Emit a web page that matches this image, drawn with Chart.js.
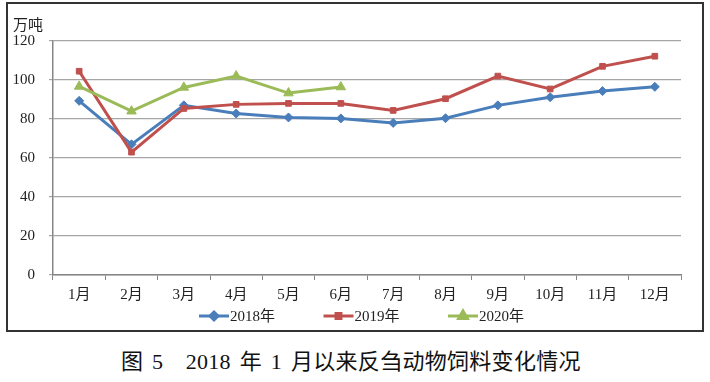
<!DOCTYPE html>
<html>
<head>
<meta charset="utf-8">
<script src="https://cdn.jsdelivr.net/npm/chart.js@4/dist/chart.umd.min.js"></script>
<style>
  html, body { margin: 0; padding: 0; background: #fff; }
  body { width: 710px; height: 382px; position: relative; overflow: hidden; }
  #box {
    position: absolute; left: 6px; top: 2px; width: 698px; height: 330px;
    box-sizing: border-box; border: 2px solid #333;
  }
  #box canvas { display: block; }
  #caption {
    position: absolute; left: 121px; top: 351px; line-height: 22px;
    font-family: "Liberation Serif", "Noto Sans CJK SC", serif;
    font-size: 22px; color: #111; white-space: pre; word-spacing: 3px; letter-spacing: 0.3px;
  }
</style>
</head>
<body>
<div id="box"><canvas id="chart"></canvas></div>
<div id="caption">图 5　2018 年 1 月以来反刍动物饲料变化情况</div>
<script>
/* ---- Data ---- */
const months = ["1月","2月","3月","4月","5月","6月","7月","8月","9月","10月","11月","12月"];
const seriesNames = ["2018年","2019年","2020年"];
const values2018 = [89.3, 67, 87, 82.8, 80.8, 80.3, 78, 80.4, 87, 91.2, 94.3, 96.5];
const values2019 = [104.5, 63, 85.4, 87.5, 88, 88, 84.4, 90.4, 102, 95.4, 107, 112.2];
const values2020 = [96.7, 84, 96.2, 102, 93.3, 96.4];
const yMin = 0, yMax = 120, yStep = 20;
const unitLabel = "万吨";

(() => {
  const FONT = '"Liberation Serif", "Noto Sans CJK SC", serif';
  const TEXT = "#222";

  // legend + unit label drawn by hand (line + marker like the original)
  const extras = {
    id: "extras",
    afterDraw(chart){
      const ctx = chart.ctx;
      ctx.save();
      ctx.fillStyle = TEXT;
      ctx.font = "15px " + FONT;
      ctx.textBaseline = "middle";
      ctx.textAlign = "left";
      ctx.fillText(unitLabel, 5, 22);

      chart.data.datasets.forEach((ds, i) => {
        const x0 = 191 + i * 124.5;
        const y = 312;
        ctx.strokeStyle = ds.borderColor;
        ctx.lineWidth = 3;
        ctx.beginPath();
        ctx.moveTo(x0, y);
        ctx.lineTo(x0 + 30, y);
        ctx.stroke();
        ctx.fillStyle = ds.pointBackgroundColor;
        ctx.strokeStyle = ds.pointBorderColor;
        Chart.helpers.drawPoint(ctx, {
          pointStyle: ds.pointStyle,
          radius: ds.pointRadius - 0.5,
          rotation: 0,
          borderWidth: 1
        }, x0 + 15, y);
        ctx.fillStyle = TEXT;
        ctx.fillText(ds.label, x0 + 31, y + 1);
      });
      ctx.restore();
    }
  };

  function makeSet(label, data, color, style, radius, order){
    return {
      label, data, order,
      borderColor: color,
      backgroundColor: color,
      pointBackgroundColor: color,
      pointBorderColor: color,
      pointStyle: style,
      pointRadius: radius,
      pointBorderWidth: 1,
      borderWidth: 3,
      tension: 0,
      fill: false
    };
  }

  const data = {
    labels: months,
    datasets: [
      makeSet(seriesNames[0], values2018, "#4a7ebb", "rectRot", 4.5, 2),
      makeSet(seriesNames[1], values2019, "#c0504d", "rect", 4, 1),
      makeSet(seriesNames[2], values2020, "#9bbb59", "triangle", 5.5, 0)
    ]
  };

  new Chart(document.getElementById("chart"), {
    type: "line",
    data,
    plugins: [extras],
    options: {
      responsive: true,
      maintainAspectRatio: false,
      animation: false,
      layout: { padding: { top: 37, right: 21, left: 0, bottom: 0 } },
      plugins: { legend: { display: false }, tooltip: { enabled: false } },
      scales: {
        x: {
          offset: true,
          afterFit: (s) => { s.height = 55; },
          grid: { offset: true, drawOnChartArea: false, drawTicks: true, tickLength: 5, color: "#868686" },
          border: { color: "#868686", width: 1.5 },
          ticks: { color: TEXT, font: { family: FONT, size: 15 }, padding: 6, maxRotation: 0, autoSkip: false }
        },
        y: {
          min: yMin, max: yMax,
          afterFit: (s) => { s.width = 45; },
          grid: { color: "#a6a6a6", lineWidth: 1.2, tickLength: 4 },
          border: { color: "#868686", width: 1.5 },
          ticks: { stepSize: yStep, color: TEXT, font: { family: FONT, size: 15 }, padding: 14 }
        }
      }
    }
  });
})();
</script>
</body>
</html>
